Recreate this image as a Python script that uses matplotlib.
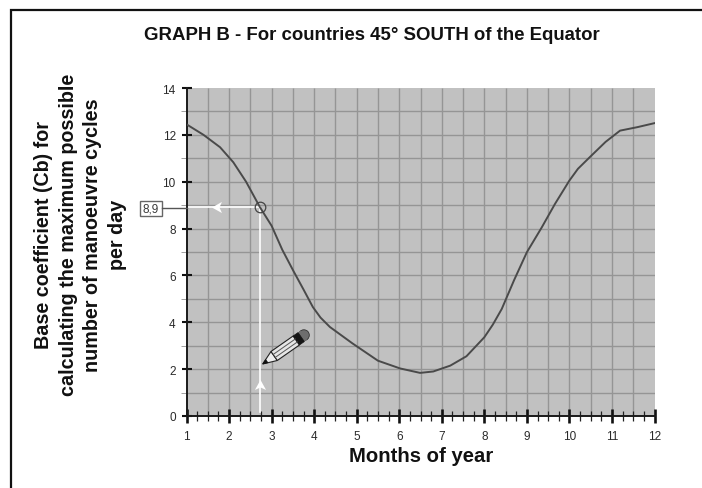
import numpy as np
import matplotlib
matplotlib.use('Agg')
import matplotlib.pyplot as plt
from matplotlib.patches import Polygon, Rectangle, Circle
from matplotlib.ticker import MultipleLocator

# curve
months = [1, 1.4, 1.79, 2.1, 2.4, 2.73, 3.0, 3.25, 3.51, 3.75, 3.97, 4.15, 4.37, 4.9, 5.5, 6.02, 6.49,
          6.8, 7.2, 7.58, 8.0, 8.2, 8.41, 8.7, 9.0, 9.35, 9.66, 10.0, 10.2, 10.48, 10.85, 11.19, 11.6, 12]
cb = [12.45, 12.0, 11.47, 10.83, 10.0, 8.9, 8.12, 7.1, 6.2, 5.4, 4.65, 4.2, 3.8, 3.1, 2.36, 2.03, 1.84,
      1.9, 2.15, 2.55, 3.36, 3.9, 4.57, 5.8, 6.99, 8.05, 9.05, 10.05, 10.55, 11.05, 11.7, 12.18, 12.33, 12.5]

read_month = 2.73
read_cb = 8.9
read_label = '8,9'

title = 'GRAPH B - For countries 45° SOUTH of the Equator'
xlabel = 'Months of year'
ylabel = 'Base coefficient (Cb) for\ncalculating the maximum possible\nnumber of manoeuvre cycles\nper day'

W, H = 702, 489
BOLD = dict(family='Liberation Sans', fontweight='bold', color='#111111')

fig = plt.figure(figsize=(W/100, H/100), dpi=100, facecolor='white')

ax = fig.add_axes([186.5/W, 1-417/H, (654.5-186.5)/W, (417-89)/H])
ax.set_facecolor('#c1c1c1')
ax.set_xlim(1, 12)
ax.set_ylim(0, 14)

# grid: every half month, every 1 unit
ax.vlines(np.arange(1.5, 12, 0.5), 0, 14, color='#959595', lw=1.0, zorder=1)
ax.hlines(np.arange(1, 14, 1), 1, 12, color='#959595', lw=1.0, zorder=1)

for s in ['top', 'right']:
    ax.spines[s].set_visible(False)
for s in ['left', 'bottom']:
    ax.spines[s].set_linewidth(1.4)
    ax.spines[s].set_color('#1a1a1a')

ax.xaxis.set_major_locator(MultipleLocator(1))
ax.xaxis.set_minor_locator(MultipleLocator(0.25))
ax.yaxis.set_major_locator(MultipleLocator(2))
ax.yaxis.set_minor_locator(MultipleLocator(1))
ax.tick_params(axis='x', which='major', direction='inout', length=10, width=1.9, color='#111111',
               labelsize=8.5, labelcolor='#2a2a2a', pad=5)
ax.tick_params(axis='x', which='minor', direction='inout', length=6.5, width=0.9, color='#222222')
ax.tick_params(axis='y', which='major', direction='inout', length=6.5, width=1.5, color='#111111',
               labelsize=8.5, labelcolor='#2a2a2a', pad=4.5)
ax.tick_params(axis='y', which='minor', direction='out', length=4, width=0.7, color='#a0a0a0')
for lab in ax.get_xticklabels() + ax.get_yticklabels():
    lab.set_family('Liberation Sans')

# reading lines, white
ax.plot([1, read_month], [read_cb, read_cb], color='white', lw=1.2, zorder=2)
ax.plot([read_month, read_month], [0.15, read_cb], color='white', lw=1.2, zorder=2)
arrow_up = [(-1, -0.8), (0, 1), (1, -0.8), (0, -0.35)]
arrow_left = [(-y, x) for x, y in arrow_up]
ax.plot([read_month], [1.32], marker=arrow_up, ms=8, color='white', mec='none', zorder=3)
ax.plot([1.71], [read_cb], marker=arrow_left, ms=8, color='white', mec='none', zorder=3)

ax.plot(months, cb, color='#4a4a4a', lw=1.4, zorder=4)
ax.plot([read_month], [read_cb], marker='o', ms=7.6, mfc='none', mec='#444444', mew=0.9, zorder=5)

# overlay in pixel coordinates: frame, texts, label box, pencil
over = fig.add_axes([0, 0, 1, 1])
over.set_xlim(0, W)
over.set_ylim(H, 0)
over.axis('off')
over.patch.set_visible(False)

over.plot([10.5, 10.5, W], [H, 10.5, 10.5], color='#111111', lw=1.6, solid_joinstyle='miter')

over.text(372, 35, title, ha='center', va='center', fontsize=13.4, **BOLD)
over.text(421, 456, xlabel, ha='center', va='center', fontsize=14.6, **BOLD)
over.text(80.5, 235, ylabel, ha='center', va='center', rotation=90, multialignment='center',
          fontsize=14.2, linespacing=1.36, **BOLD)

over.plot([161.7, 186.5], [209, 209], color='#555555', lw=1.0)
over.add_patch(Rectangle((139.5, 202), 22, 14.5, fc='white', ec='#666666', lw=1.0))
over.text(150.5, 209.5, read_label, ha='center', va='center', fontsize=8.5,
          family='Liberation Sans', color='#3a3a3a')


def pencil(tip, end, half=5.5):
    tip = np.array(tip, float)
    u = np.array(end, float) - tip
    length = np.hypot(*u)
    u = u/length
    v = np.array([-u[1], u[0]])

    def pt(a, b):
        return tip + a*u + b*v

    def poly(pts, **kw):
        over.add_patch(Polygon([pt(a, b) for a, b in pts], closed=True, **kw))

    poly([(0, 0), (14, -half), (14, half)], fc='#efefef', ec='#222222', lw=0.8)
    poly([(0, 0), (5, -half*5/14), (5, half*5/14)], fc='#111111', ec='#111111', lw=0.5)
    poly([(14, -half), (41, -half), (41, half), (14, half)], fc='#e6e6e6', ec='#222222', lw=0.8)
    for b in [-1.8, 1.8]:
        over.plot(*zip(pt(14, b), pt(41, b)), color='#555555', lw=0.7)
    over.add_patch(Circle(pt(length-5, 0), 5.4, fc='#6e6e6e', ec='#333333', lw=0.6))
    poly([(47, -half), (length-5, -5.4), (length-5, 5.4), (47, half)], fc='#6e6e6e', ec='none')
    poly([(41, -half), (47, -half), (47, half), (41, half)], fc='#151515', ec='#151515', lw=0.5)


pencil((262.7, 365), (308, 333.3))

fig.savefig('out.png', dpi=100)
